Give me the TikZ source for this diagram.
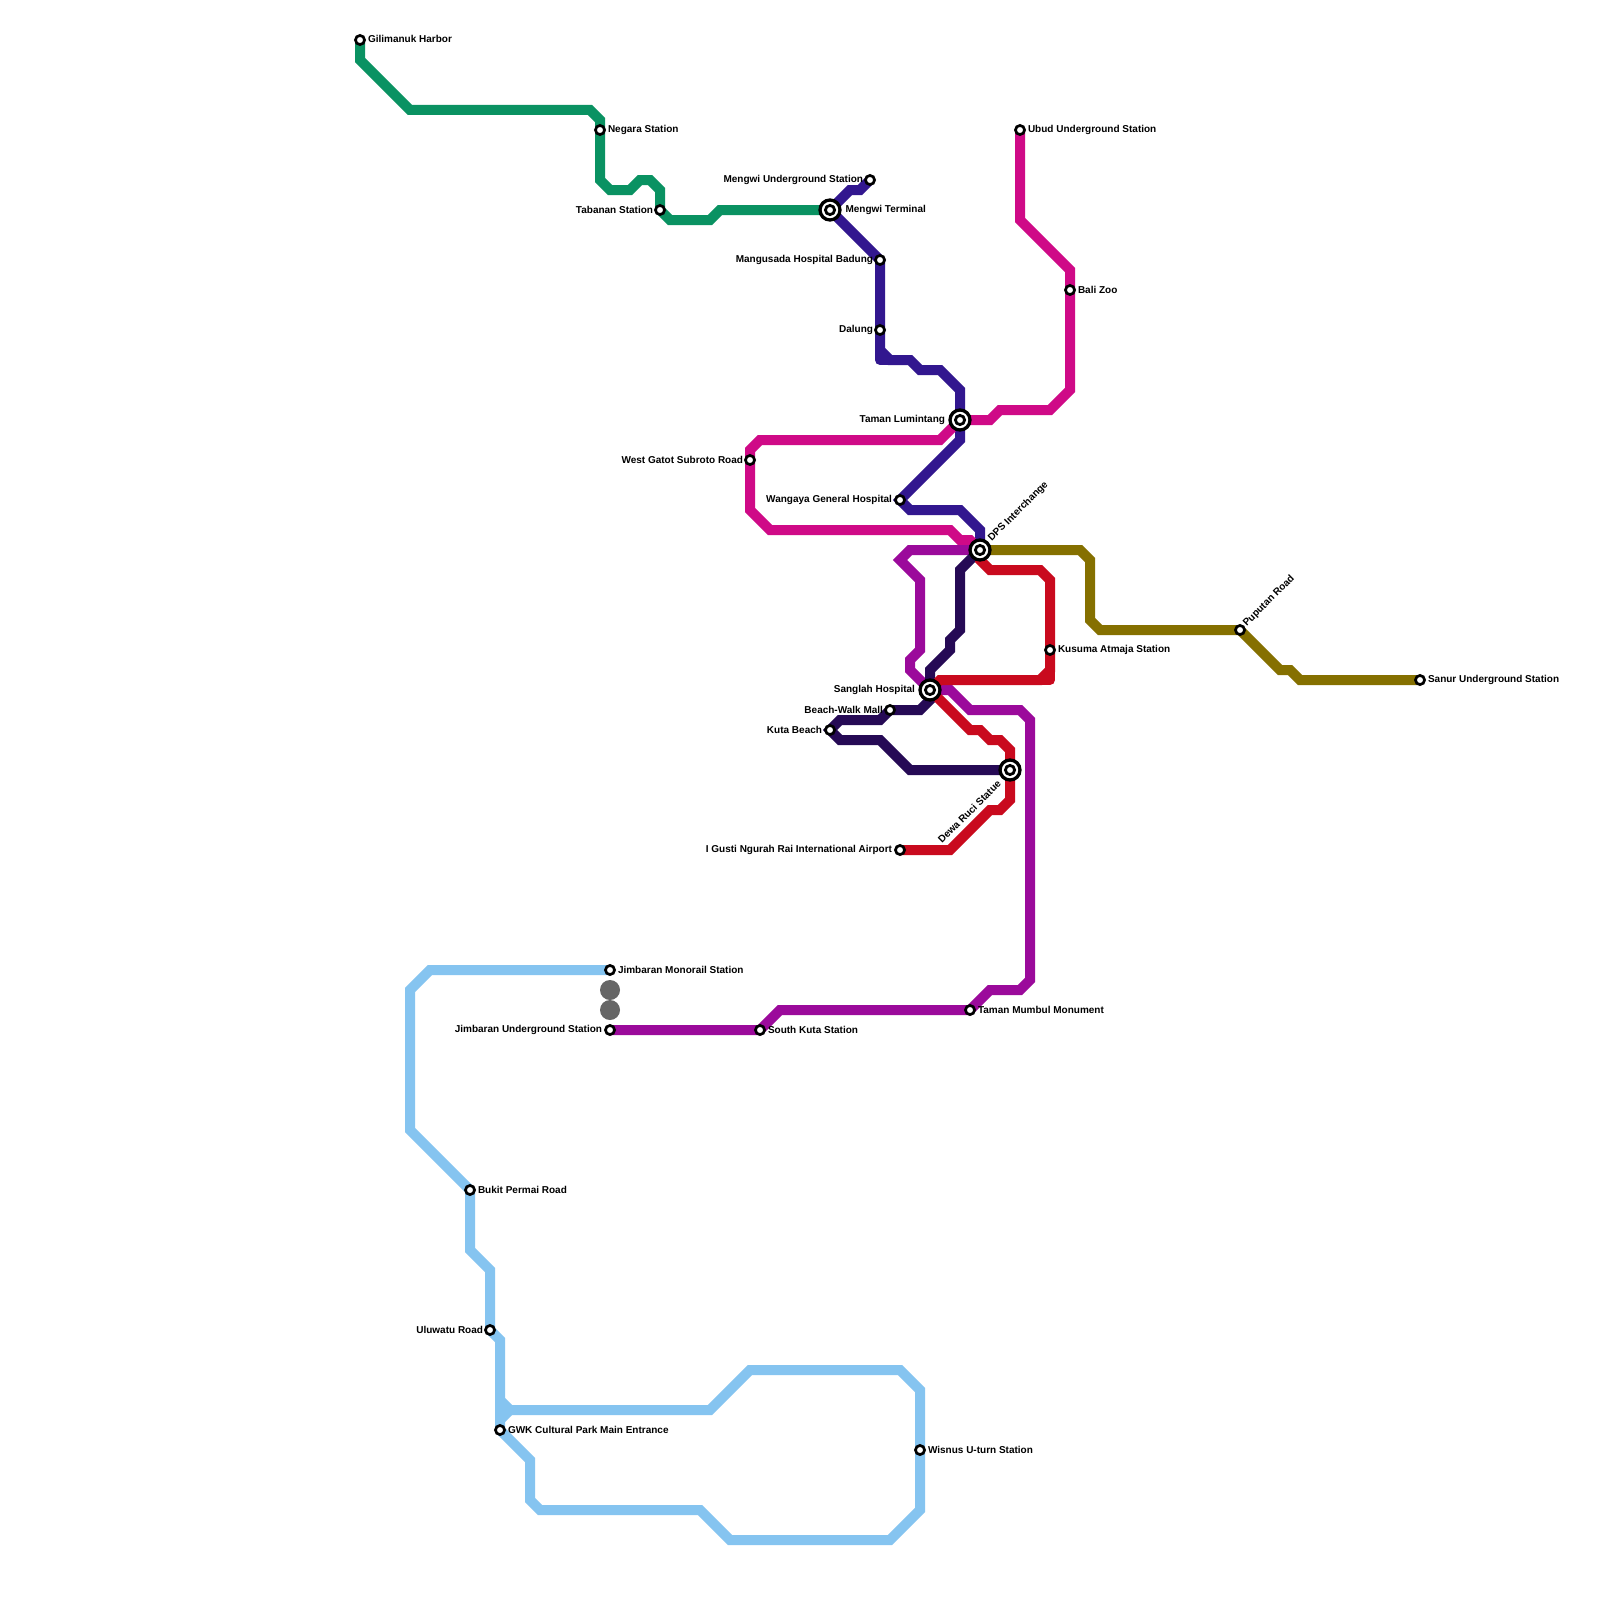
\documentclass[tikz,border=0pt]{standalone}
\usepackage{fontspec}
\setmainfont{Liberation Sans}
\usetikzlibrary{backgrounds}
\definecolor{cgreen}{HTML}{0A9262}
\definecolor{cblue}{HTML}{32178F}
\definecolor{cmag}{HTML}{CF0A87}
\definecolor{cpur}{HTML}{9B0A9B}
\definecolor{cdark}{HTML}{260A55}
\definecolor{cred}{HTML}{C90A1E}
\definecolor{colive}{HTML}{857000}
\definecolor{csky}{HTML}{85C4F0}
\definecolor{cgrey}{HTML}{666666}
\tikzset{
 x=1pt,y=-1pt,
 metro/.style={line width=10pt,line join=miter,miter limit=4,line cap=butt},
 metrocorner/.style={line width=10pt,line join=round,line cap=butt},
 stn/.style={circle,draw=black,fill=white,line width=2.7pt,minimum size=9.1pt,inner sep=0pt,outer sep=0pt},
 hub/.style={circle,draw=black,fill=white,line width=3.3pt,minimum size=20pt,inner sep=0pt,outer sep=0pt,
   path picture={\draw[black,line width=2.8pt,fill=white] (path picture bounding box.center) circle (4.6pt);}},
 lab/.style={inner sep=0pt,outer sep=0pt,text=black,font=\fontsize{10pt}{11pt}\selectfont\bfseries},
 lr/.style={lab,anchor=west},
 ll/.style={lab,anchor=east},
 blob/.style={circle,fill=cgrey,minimum size=20pt,inner sep=0pt,outer sep=0pt},
}
\begin{document}
\begin{tikzpicture}
\useasboundingbox (0,0) rectangle (1600,1600);
% stations
\node[stn] (gilimanuk) at (360,40) {};
\node[stn] (negara) at (600,130) {};
\node[stn] (tabanan) at (660,210) {};
\node[hub] (mengwi) at (830,210) {};
\node[stn] (mengwiu) at (870,180) {};
\node[stn] (mangusada) at (880,260) {};
\node[stn] (dalung) at (880,330) {};
\node[hub] (lumintang) at (960,420) {};
\node[stn] (gatot) at (750,460) {};
\node[stn] (wangaya) at (900,500) {};
\node[hub] (dps) at (980,550) {};
\node[hub] (sanglah) at (930,690) {};
\node[stn] (beachwalk) at (890,710) {};
\node[stn] (kuta) at (830,730) {};
\node[hub] (dewa) at (1010,770) {};
\node[stn] (airport) at (900,850) {};
\node[stn] (kusuma) at (1050,650) {};
\node[stn] (puputan) at (1240,630) {};
\node[stn] (sanur) at (1420,680) {};
\node[stn] (ubud) at (1020,130) {};
\node[stn] (balizoo) at (1070,290) {};
\node[stn] (jimmono) at (610,970) {};
\node[stn] (jimund) at (610,1030) {};
\node[stn] (southkuta) at (760,1030) {};
\node[stn] (mumbul) at (970,1010) {};
\node[stn] (bukit) at (470,1190) {};
\node[stn] (uluwatu) at (490,1330) {};
\node[stn] (gwk) at (500,1430) {};
\node[stn] (wisnus) at (920,1450) {};
\node[blob] (g1) at (610,990) {};
\node[blob] (g2) at (610,1010) {};
% labels
\node[lr] (t1) at (368,39) {Gilimanuk Harbor};
\node[lr] (t2) at (608,129.5) {Negara Station};
\node[ll] (t3) at (653,209.5) {Tabanan Station};
\node[lr] (t4) at (845.5,209.5) {Mengwi Terminal};
\node[ll] (t5) at (863,179.5) {Mengwi Underground Station};
\node[ll] (t6) at (873,259.5) {Mangusada Hospital Badung};
\node[ll] (t7) at (873,329.5) {Dalung};
\node[ll] (t8) at (945,419.5) {Taman Lumintang};
\node[ll] (t9) at (743,459.5) {West Gatot Subroto Road};
\node[ll] (t10) at (892,499.5) {Wangaya General Hospital};
\node[lr,rotate=45] (t11) at (990,540) {DPS Interchange};
\node[ll] (t12) at (915,689.5) {Sanglah Hospital};
\node[ll] (t13) at (883,709.5) {Beach-Walk Mall};
\node[ll] (t14) at (822,729.5) {Kuta Beach};
\node[ll,rotate=45] (t15) at (999,782) {Dewa Ruci Statue};
\node[ll] (t16) at (892,849.5) {I Gusti Ngurah Rai International Airport};
\node[lr] (t17) at (1058,649.5) {Kusuma Atmaja Station};
\node[lr,rotate=45] (t18) at (1245,625) {Puputan Road};
\node[lr] (t19) at (1428,679.5) {Sanur Underground Station};
\node[lr] (t20) at (1028,129.5) {Ubud Underground Station};
\node[lr] (t21) at (1078,289.5) {Bali Zoo};
\node[lr] (t22) at (618,969.5) {Jimbaran Monorail Station};
\node[ll] (t23) at (602,1029.5) {Jimbaran Underground Station};
\node[lr] (t24) at (768,1029.5) {South Kuta Station};
\node[lr] (t25) at (978,1009.5) {Taman Mumbul Monument};
\node[lr] (t26) at (478,1189.5) {Bukit Permai Road};
\node[ll] (t27) at (483,1329.5) {Uluwatu Road};
\node[lr] (t28) at (508,1429.5) {GWK Cultural Park Main Entrance};
\node[lr] (t29) at (928,1449.5) {Wisnus U-turn Station};
% lines
\begin{pgfonlayer}{background}
\fill[white] (0,0) rectangle (1600,1600);
\draw[metro,csky] (jimmono.center) -- (430,970) -- (410,990) -- (410,1130) -- (bukit.center) -- (470,1250) -- (490,1270) -- (uluwatu.center) -- (500,1340) -- (500,1400) -- (510,1410) -- (710,1410) -- (750,1370) -- (900,1370) -- (920,1390) -- (wisnus.center) -- (920,1510) -- (890,1540) -- (730,1540) -- (700,1510) -- (540,1510) -- (530,1500) -- (530,1460) -- (gwk.center);
\draw[metro,csky] (500,1390) -- (gwk.center);
\draw[metro,csky] (gwk.center) -- (500,1420) -- (510,1410);
\draw[metro,cgreen] (gilimanuk.center) -- (360,60) -- (410,110) -- (590,110) -- (600,120) -- (600,180) -- (610,190) -- (630,190) -- (640,180) -- (650,180) -- (660,190) -- (tabanan.center) -- (670,220) -- (710,220) -- (720,210) -- (mengwi.center);
\draw[metro,cblue] (mengwiu.center) -- (860,190) -- (850,190) -- (mengwi.center) -- (mangusada.center) -- (880,350) -- (890,360) -- (910,360) -- (920,370) -- (940,370) -- (960,390) -- (960,440) -- (wangaya.center) -- (910,510) -- (960,510) -- (980,530) -- (dps.center);
\draw[metrocorner,cblue] (880,345) -- (880,360) -- (895,360);
\draw[metro,cmag] (ubud.center) -- (1020,220) -- (1070,270) -- (1070,390) -- (1050,410) -- (1000,410) -- (990,420) -- (lumintang.center) -- (940,440) -- (760,440) -- (750,450) -- (750,510) -- (770,530) -- (950,530) -- (960,540) -- (970,540) -- (dps.center);
\draw[metro,cpur] (dps.center) -- (910,550) -- (900,560) -- (920,580) -- (920,650) -- (910,660) -- (910,670) -- (sanglah.center) -- (950,690) -- (970,710) -- (1020,710) -- (1030,720) -- (1030,980) -- (1020,990) -- (990,990) -- (mumbul.center) -- (780,1010) -- (southkuta.center) -- (jimund.center);
\draw[metro,cdark] (dps.center) -- (960,570) -- (960,630) -- (950,640) -- (950,650) -- (930,670) -- (sanglah.center) -- (930,700) -- (920,710) -- (beachwalk.center) -- (880,720) -- (840,720) -- (kuta.center) -- (840,740) -- (880,740) -- (910,770) -- (dewa.center);
\draw[metro,cred] (dps.center) -- (980,560) -- (990,570) -- (1040,570) -- (1050,580) -- (1050,670) -- (1040,680) -- (940,680) -- (sanglah.center) -- (970,730) -- (980,730) -- (990,740) -- (1000,740) -- (1010,750) -- (1010,800) -- (1000,810) -- (990,810) -- (950,850) -- (airport.center);
\draw[metrocorner,cred] (1050,665) -- (1050,680) -- (1035,680);
\draw[metro,colive] (dps.center) -- (1080,550) -- (1090,560) -- (1090,620) -- (1100,630) -- (puputan.center) -- (1280,670) -- (1290,670) -- (1300,680) -- (sanur.center);
\end{pgfonlayer}
\end{tikzpicture}
\end{document}
